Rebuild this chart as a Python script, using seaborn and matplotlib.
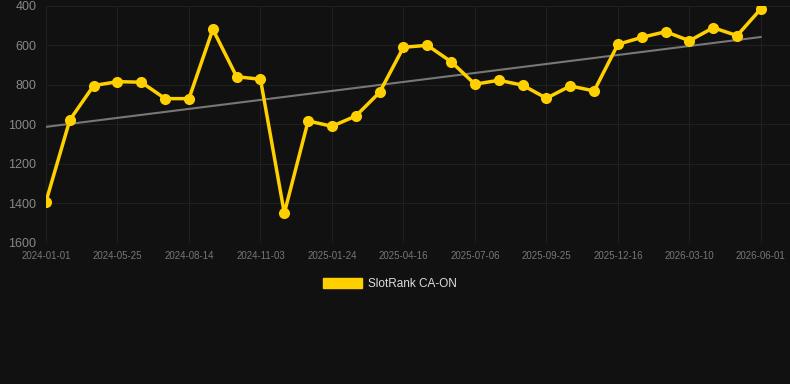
import numpy as np
import pandas as pd
import seaborn as sns
import matplotlib.pyplot as plt
from matplotlib.patches import Patch

# rank values, one point per period (lower = better, axis inverted)
ranks = [1390, 977, 803, 783, 786, 869, 869, 518, 758, 771,
         1449, 982, 1009, 957, 837, 609, 599, 682, 796, 776,
         801, 867, 805, 830, 594, 559, 530, 576, 510, 550, 414]
tick_labels = ['2024-01-01', '2024-05-25', '2024-08-14', '2024-11-03', '2025-01-24',
               '2025-04-16', '2025-07-06', '2025-09-25', '2025-12-16', '2026-03-10',
               '2026-06-01']
trend_ends = [1012, 557]
series_name = 'SlotRank CA-ON'

gold = '#FFD000'
bg = '#111111'

df = pd.DataFrame({'idx': np.arange(len(ranks)), 'rank': ranks})

sns.set_style('dark')
plt.rcParams['font.family'] = ['Liberation Sans', 'DejaVu Sans']

fig = plt.figure(figsize=(7.9, 3.84), dpi=100, facecolor=bg)
ax = fig.add_axes([46 / 790, 1 - 243 / 384, 744 / 790, 237 / 384])
ax.set_facecolor(bg)

ax.plot([0, len(ranks) - 1], trend_ends, color='#777777', lw=1.5, zorder=2)
sns.lineplot(data=df, x='idx', y='rank', ax=ax, color=gold, lw=2.5,
             marker='o', markersize=8, markeredgewidth=0, zorder=3, legend=False)

ax.set_ylim(1600, 400)
ax.set_xlim(0, 31.22)
ax.set_yticks([400, 600, 800, 1000, 1200, 1400, 1600])
ax.set_xticks(np.arange(0, len(ranks), 3))
ax.set_xticklabels(tick_labels)
ax.tick_params(axis='y', colors='#888888', labelsize=9, length=0, pad=7)
ax.tick_params(axis='x', colors='#777777', labelsize=7, length=0, pad=6)
ax.grid(True, color='#202020', lw=0.8)
ax.set_axisbelow(True)
for s in ax.spines.values():
    s.set_visible(False)
ax.set_xlabel('')
ax.set_ylabel('')

fig.legend(handles=[Patch(color=gold, label=series_name)], loc='center',
           bbox_to_anchor=(390 / 790, 1 - 284 / 384), frameon=False,
           labelcolor='#dddddd', fontsize=8.5, handlelength=3.3, handleheight=1.0,
           handletextpad=0.5)

fig.savefig('out.png', dpi=100, facecolor=bg)
